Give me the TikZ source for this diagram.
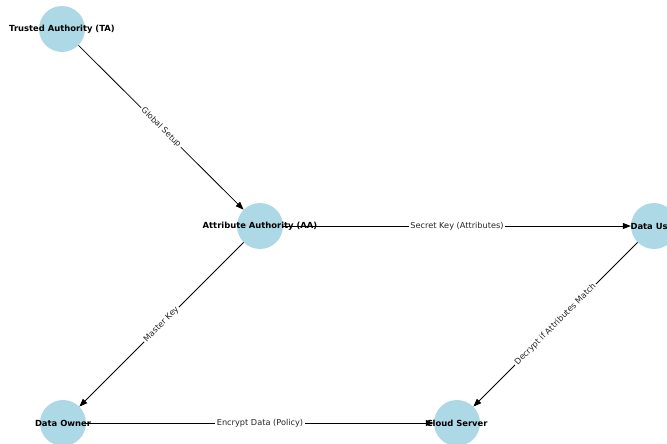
\documentclass[tikz,border=0pt]{standalone}
\usepackage{fontspec}
\setmainfont{DejaVu Sans}
\usetikzlibrary{arrows.meta}
\definecolor{nodeblue}{RGB}{173,216,230}
\tikzset{
  circ/.style={circle, fill=nodeblue, minimum size=46pt, inner sep=0pt},
  lbl/.style={font=\fontsize{8.4}{10}\selectfont\bfseries, inner sep=0pt},
  edge/.style={draw=black, line width=0.8pt, -{Triangle[length=8pt,width=6pt]}},
  elbl/.style={midway, sloped, fill=white, inner sep=1.5pt, font=\fontsize{8.2}{10}\selectfont, text=black!85}
}
\begin{document}
\begin{tikzpicture}[x=1pt,y=-1pt]
\useasboundingbox (0,0) rectangle (667,444);
\node[circ] (TA) at (62,29) {};
\node[circ] (AA) at (260,226) {};
\node[circ] (DU) at (654,226) {};
\node[circ] (DO) at (63,423) {};
\node[circ] (CS) at (457,423) {};
\draw[edge] (TA) -- (AA) node[elbl] {Global Setup};
\draw[edge] (AA) -- (DU) node[elbl] {Secret Key (Attributes)};
\draw[edge] (AA) -- (DO) node[elbl] {Master Key};
\draw[edge] (DO) -- (CS) node[elbl] {Encrypt Data (Policy)};
\draw[edge] (DU) -- (CS) node[elbl] {Decrypt if Attributes Match};
\node[lbl] (TAl) at (TA) {Trusted Authority (TA)};
\node[lbl] (AAl) at (AA) {Attribute Authority (AA)};
\node[lbl] (DUl) at (DU) {Data User};
\node[lbl] (DOl) at (DO) {Data Owner};
\node[lbl] (CSl) at (CS) {Cloud Server};
\end{tikzpicture}
\end{document}
